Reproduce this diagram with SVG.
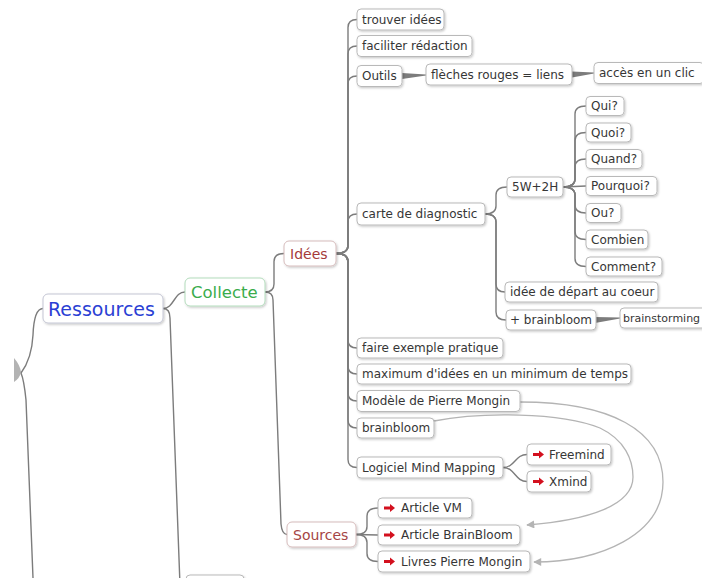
<svg xmlns="http://www.w3.org/2000/svg" width="702" height="578" viewBox="0 0 702 578">
<defs>
<filter id="sh" x="-10%" y="-20%" width="120%" height="150%">
<feDropShadow dx="1" dy="1.2" stdDeviation="0.8" flood-color="#000" flood-opacity="0.22"/>
</filter>
<marker id="ah" viewBox="0 0 10 10" refX="9" refY="5" markerWidth="9" markerHeight="8" markerUnits="userSpaceOnUse" orient="auto">
<path d="M0,0 L10,5 L0,10 Z" fill="#b4b4b4"/>
</marker>
<path id="ico" d="M0,-1.6 L6,-1.6 L6,-4 L11,0 L6,4 L6,1.6 L0,1.6 Z" fill="#d3101e"/>
</defs>
<style>
.n rect{fill:#fff;stroke:#b9b9b9;stroke-width:1;filter:url(#sh)}
.n text{font-family:"DejaVu Sans",sans-serif;font-size:12px;fill:#363636}
.c path{fill:none;stroke:#7c7c7c;stroke-width:1.4}
.c path.w{fill:#7c7c7c;stroke:none}
.r path{fill:none;stroke:#b4b4b4;stroke-width:1.3}
</style>
<rect width="702" height="578" fill="#fff"/>

<g class="c" id="connectors">
<path class="w" d="M14,358 Q20,365 21,372 Q20,378 14,382 Z" style="fill:#b3b3b3"/>
<path d="M21,373 C27,365 32,355 33,335 Q34,308.5 43,308.5"/>
<path d="M21,373 C24,380 25,390 26,400 L33,578"/>
<path d="M163,308.5 C174,308.5 174,292 185,292"/>
<path d="M163,308.5 Q170,308.5 170,318 L180,585 Q181,592 186,592"/>
<path d="M265,292 Q274,292 274,284 L274,261.5 Q274,253.5 284,253.5"/>
<path d="M265,292 Q273,292 273,300 L281,524 Q282,534.5 287,534.5"/>
<path d="M336,253.5 Q348,253.5 348,245.5 L348,27.5 Q348,19.5 357,19.5"/>
<path d="M336,253.5 Q348,253.5 348,245.5 L348,54 Q348,46 357,46"/>
<path d="M336,253.5 Q348,253.5 348,245.5 L348,84 Q348,76 357,76"/>
<path d="M336,253.5 Q348,253.5 348,245.5 L348,222 Q348,214 357,214"/>
<path d="M336,253.5 Q348,253.5 348,261.5 L348,340 Q348,348 357,348"/>
<path d="M336,253.5 Q348,253.5 348,261.5 L348,366 Q348,374 357,374"/>
<path d="M336,253.5 Q348,253.5 348,261.5 L348,393 Q348,401 357,401"/>
<path d="M336,253.5 Q348,253.5 348,261.5 L348,420 Q348,428 357,428"/>
<path d="M336,253.5 Q348,253.5 348,261.5 L348,459.5 Q348,467.5 357,467.5"/>
<path class="w" d="M402,73 L426,74.6 L426,75.6 L402,79 Z"/>
<path class="w" d="M572,71.5 L594,72.5 L594,73.5 L572,77.5 Z"/>
<path d="M485,214 Q496,214 496,206 L496,195 Q496,187 507,187"/>
<path d="M485,214 Q496,214 496,222 L496,284 Q496,292 505,292"/>
<path d="M485,214 Q496,214 496,222 L496,312 Q496,320 506,320"/>
<path class="w" d="M595,317 L620,317.5 L620,318.5 L595,323 Z"/>
<path d="M563,187 Q575,187 575,179 L575,114 Q575,106 586,106"/>
<path d="M563,187 Q575,187 575,179 L575,140.5 Q575,132.5 586,132.5"/>
<path d="M563,187 Q575,187 575,179 L575,167 Q575,159 586,159"/>
<path d="M563,187 L586,186"/>
<path d="M563,187 Q575,187 575,195 L575,205 Q575,213 586,213"/>
<path d="M563,187 Q575,187 575,195 L575,231.5 Q575,239.5 586,239.5"/>
<path d="M563,187 Q575,187 575,195 L575,258.5 Q575,266.5 586,266.5"/>
<path d="M503,467.5 C515,467.5 515,454.5 527,454.5"/>
<path d="M503,467.5 C515,467.5 515,481.5 527,481.5"/>
<path d="M356,534.5 Q367,534.5 367,526.5 L367,516 Q367,508 378,508"/>
<path d="M356,534.5 L378,535"/>
<path d="M356,534.5 Q367,534.5 367,542.5 L367,553.5 Q367,561.5 378,561.5"/>
</g>

<g class="r" id="relations">
<path d="M520,402 C610,402 663,430 663,482 C663,535 600,562 534,562" marker-end="url(#ah)"/>
<path d="M434,421 C480,412 560,412 600,428 C625,440 633,460 633,477 C633,505 590,520 527,525" marker-end="url(#ah)"/>
</g>

<g class="n" id="n-ressources"><rect x="43" y="294" width="120" height="29" rx="5" style="stroke:#c4c6d4"/><text x="48" y="315.5" style="font-size:19px;fill:#2b3fd4">Ressources</text></g>
<g class="n" id="n-collecte"><rect x="185" y="278" width="80" height="28" rx="5" style="stroke:#b3dcbc"/><text x="191" y="298" style="font-size:16.5px;fill:#3aac4c">Collecte</text></g>
<g class="n" id="n-idees"><rect x="284" y="241" width="52" height="25" rx="5" style="stroke:#d6bcbc"/><text x="290" y="258.5" style="font-size:14px;fill:#a53a3a">Idées</text></g>
<g class="n" id="n-sources"><rect x="287" y="522" width="69" height="25" rx="5" style="stroke:#d6bcbc"/><text x="293" y="539.5" style="font-size:14px;fill:#a54545">Sources</text></g>
<g class="n" id="n-bottom"><rect x="186" y="575" width="58" height="22" rx="4"/></g>

<g class="n" id="n-trouver"><rect x="357" y="9" width="87" height="21" rx="4"/><text x="362" y="23.5">trouver idées</text></g>
<g class="n" id="n-faciliter"><rect x="357" y="35.5" width="115" height="21" rx="4"/><text x="362" y="50">faciliter rédaction</text></g>
<g class="n" id="n-outils"><rect x="357" y="65.5" width="45" height="21" rx="4"/><text x="362" y="80">Outils</text></g>
<g class="n" id="n-fleches"><rect x="426" y="64" width="146" height="21" rx="4"/><text x="431" y="78.5">flèches rouges = liens</text></g>
<g class="n" id="n-acces"><rect x="594" y="62.5" width="110" height="21" rx="4"/><text x="599" y="77">accès en un clic</text></g>
<g class="n" id="n-carte"><rect x="357" y="203" width="128" height="22" rx="4"/><text x="362" y="218">carte de diagnostic</text></g>
<g class="n" id="n-5w2h"><rect x="507" y="177" width="56" height="20" rx="4"/><text x="512" y="191">5W+2H</text></g>
<g class="n" id="n-qui"><rect x="586" y="96.5" width="38" height="19" rx="4"/><text x="591" y="110">Qui?</text></g>
<g class="n" id="n-quoi"><rect x="586" y="123" width="45" height="19" rx="4"/><text x="591" y="136.5">Quoi?</text></g>
<g class="n" id="n-quand"><rect x="586" y="149.5" width="56" height="19" rx="4"/><text x="591" y="163">Quand?</text></g>
<g class="n" id="n-pourquoi"><rect x="586" y="176.5" width="71" height="19" rx="4"/><text x="591" y="190">Pourquoi?</text></g>
<g class="n" id="n-ou"><rect x="586" y="203.5" width="35" height="19" rx="4"/><text x="591" y="217">Ou?</text></g>
<g class="n" id="n-combien"><rect x="586" y="230" width="62" height="19" rx="4"/><text x="591" y="243.5">Combien</text></g>
<g class="n" id="n-comment"><rect x="586" y="257" width="76" height="19" rx="4"/><text x="591" y="270.5">Comment?</text></g>
<g class="n" id="n-idee"><rect x="505" y="282" width="153" height="20" rx="4"/><text x="510" y="296">idée de départ au coeur</text></g>
<g class="n" id="n-plusbb"><rect x="506" y="310" width="90" height="20" rx="4"/><text x="510" y="324">+ brainbloom</text></g>
<g class="n" id="n-brainstorming"><rect x="620" y="308" width="92" height="20" rx="4"/><text x="623" y="322" style="font-size:11px">brainstorming</text></g>
<g class="n" id="n-faire"><rect x="357" y="338" width="146" height="20" rx="4"/><text x="362" y="352">faire exemple pratique</text></g>
<g class="n" id="n-maximum"><rect x="357" y="364" width="274" height="20" rx="4"/><text x="362" y="378">maximum d'idées en un minimum de temps</text></g>
<g class="n" id="n-modele"><rect x="357" y="390.5" width="163" height="21" rx="4"/><text x="362" y="405">Modèle de Pierre Mongin</text></g>
<g class="n" id="n-brainbloom"><rect x="357" y="418" width="77" height="20" rx="4"/><text x="362" y="432">brainbloom</text></g>
<g class="n" id="n-logiciel"><rect x="357" y="457" width="146" height="21" rx="4"/><text x="362" y="471.5">Logiciel Mind Mapping</text></g>
<g class="n" id="n-freemind"><rect x="527" y="444" width="84" height="21" rx="4"/><use href="#ico" x="533" y="454.5"/><text x="549" y="458.5">Freemind</text></g>
<g class="n" id="n-xmind"><rect x="527" y="471" width="64" height="21" rx="4"/><use href="#ico" x="533" y="481.5"/><text x="549" y="485.5">Xmind</text></g>
<g class="n" id="n-artvm"><rect x="378" y="498" width="94" height="20" rx="4"/><use href="#ico" x="384" y="508"/><text x="401" y="512">Article VM</text></g>
<g class="n" id="n-artbb"><rect x="378" y="525" width="142" height="20" rx="4"/><use href="#ico" x="384" y="535"/><text x="401" y="539">Article BrainBloom</text></g>
<g class="n" id="n-livres"><rect x="378" y="551" width="152" height="21" rx="4"/><use href="#ico" x="384" y="561.5"/><text x="401" y="565.5">Livres Pierre Mongin</text></g>
</svg>
